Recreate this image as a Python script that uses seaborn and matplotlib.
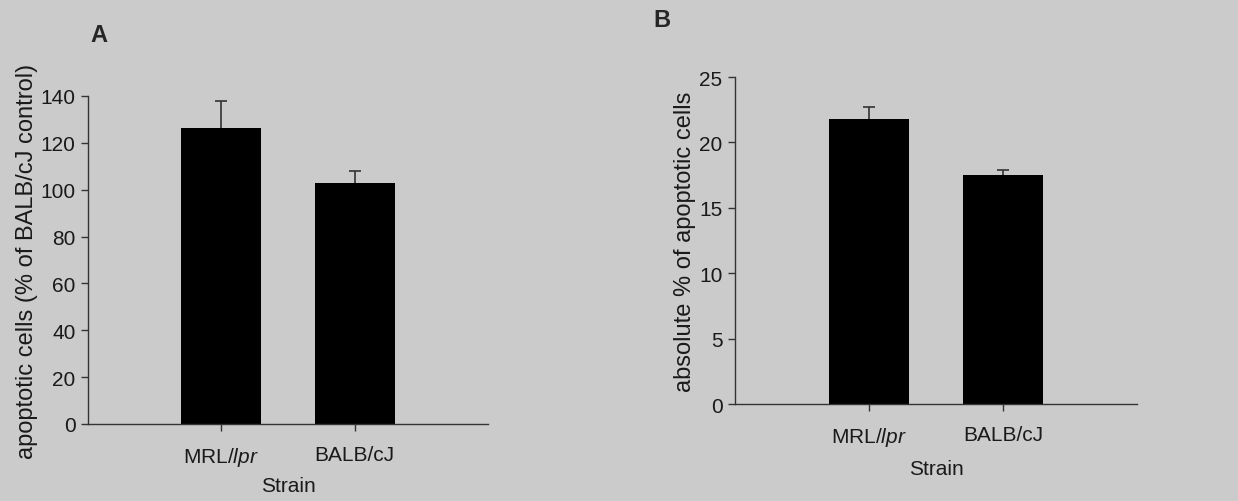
import seaborn as sns
import matplotlib.pyplot as plt
import pandas as pd

# data
strains = ["MRL/lpr", "BALB/cJ"]
pct_of_control = [126.5, 103.0]
pct_of_control_err = [11.5, 5.0]
abs_pct = [21.8, 17.5]
abs_pct_err = [0.9, 0.4]
ticks_a = [0, 20, 40, 60, 80, 100, 120, 140]
ticks_b = [0, 5, 10, 15, 20, 25]
tick_names = [r"MRL/$\mathit{lpr}$", "BALB/cJ"]

sns.set_style("white")
plt.rcParams['font.family'] = ['Liberation Sans', 'DejaVu Sans']
plt.rcParams['mathtext.fontset'] = 'custom'
plt.rcParams['mathtext.rm'] = 'Liberation Sans'
plt.rcParams['mathtext.it'] = 'Liberation Sans:italic'

bg = "#cbcbcb"
fig = plt.figure(figsize=(12.38, 5.02), dpi=100, facecolor=bg)
axA = fig.add_axes([0.0711, 0.1534, 0.3231, 0.6534])
axB = fig.add_axes([0.5937, 0.1932, 0.3247, 0.6514])


def panel(ax, vals, errs, ticks, ylab, letter, lx, ly, strain_y, labelpad):
    df = pd.DataFrame({"strain": strains, "val": vals})
    sns.barplot(data=df, x="strain", y="val", color="black", width=0.6,
                saturation=1, ax=ax, errorbar=None, edgecolor="black", linewidth=0)
    # upper error bars only
    tops = [v + e for v, e in zip(vals, errs)]
    ax.vlines([0, 1], vals, tops, color="#333333", linewidth=1.2)
    ax.hlines(tops, [-0.045, 0.955], [0.045, 1.045], color="#333333", linewidth=1.2)
    ax.set_facecolor(bg)
    ax.set_xlim(-1, 2)
    ax.set_ylim(0, ticks[-1])
    ax.set_yticks(ticks)
    ax.set_xticks([0, 1])
    ax.set_xticklabels(tick_names)
    for s in ["top", "right"]:
        ax.spines[s].set_visible(False)
    for s in ["left", "bottom"]:
        ax.spines[s].set_color("#333333")
        ax.spines[s].set_linewidth(1.0)
    ax.tick_params(axis="y", direction="out", length=5, width=1, color="#333333",
                   labelsize=15, pad=4, left=True, labelcolor="#1a1a1a")
    ax.tick_params(axis="x", direction="out", length=5, width=1, color="#333333",
                   labelsize=15, pad=10, bottom=True, labelcolor="#1a1a1a")
    ax.set_xlabel("")
    ax.set_ylabel(ylab, fontsize=17, labelpad=labelpad, color="#1a1a1a")
    fig.text(lx, ly, letter, fontsize=17, fontweight="bold", ha="left", va="center")
    pos = ax.get_position()
    fig.text((pos.x0 + pos.x1) / 2, strain_y, "Strain", fontsize=15,
             ha="center", va="center", color="#1a1a1a")


panel(axA, pct_of_control, pct_of_control_err, ticks_a,
      "apoptotic cells (% of BALB/cJ control)", "A", 0.073, 0.93, 0.03, 2)
panel(axB, abs_pct, abs_pct_err, ticks_b,
      "absolute % of apoptotic cells", "B", 0.528, 0.96, 0.064, 2)

fig.savefig("out.png", dpi=100, facecolor=bg)
